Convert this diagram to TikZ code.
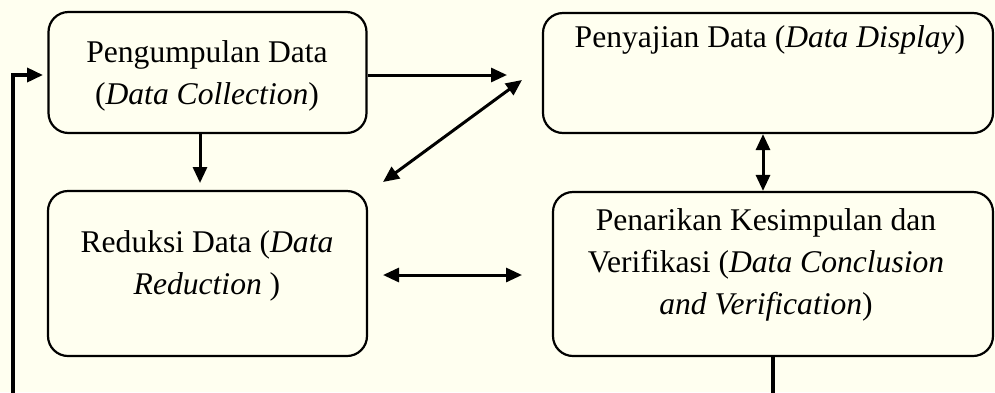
\documentclass[tikz,border=0pt]{standalone}
\usepackage{fontspec}
\setmainfont{Liberation Serif}
\usetikzlibrary{arrows.meta, positioning, calc}
\definecolor{tlo}{HTML}{FFFFF0}

\begin{document}
\begin{tikzpicture}[
			x=0.5pt, y=-0.5pt,
			>={Triangle[length=8pt, width=7pt]},
			box/.style={draw, rounded corners=10pt, line width=1.1pt, inner sep=0pt},
			txt/.style={align=center, font=\fontsize{15.8}{21}\selectfont},
			arr/.style={line width=1.5pt}
			]
			% --- Tlo i obszar rysunku ---
			\fill[tlo] (0,0) rectangle (995,392);
			\useasboundingbox (0,0) rectangle (995,392);
			\clip (0,0) rectangle (995,392);
			
			% --- Bloki (ramki) ---
			\node[box, minimum width=159pt, minimum height=60.5pt] (collect) at (207.5,72.5) {}; % Pengumpulan
			\node[box, minimum width=225pt, minimum height=60pt] (display) at (768,73) {}; % Penyajian
			\node[box, minimum width=159.5pt, minimum height=82.5pt] (reduce) at (207.5,273.5) {}; % Reduksi
			\node[box, minimum width=220pt, minimum height=82pt] (conclude) at (773,274) {}; % Kesimpulan
			
			% --- Teksty w blokach ---
			\node[txt] (collect-txt) at (207,76) {Pengumpulan Data\\(\textit{Data Collection})};
			\node[txt] (display-txt) at (770,40) {Penyajian Data (\textit{Data Display})};
			\node[txt] (reduce-txt) at (207,266) {Reduksi Data (\textit{Data}\\\textit{Reduction} )};
			\node[txt] (conclude-txt) at (766,265) {Penarikan Kesimpulan dan\\Verifikasi (\textit{Data Conclusion}\\\textit{and Verification})};
			
			% --- Punkty pomocnicze ---
			\coordinate (display-in) at (507,75);
			\coordinate (diag-low) at (383,182);
			\coordinate (diag-up) at (522,80);
			\coordinate (reduce-in) at (200,183);
			\coordinate (link-x) at (763,0);
			\coordinate (mid-l) at (383,275);
			\coordinate (mid-r) at (522,275);
			\coordinate (fb-x) at (773,0);
			\coordinate (loop-x) at (13,0);
			\coordinate (collect-in) at (43,75);
			
			% --- Strzalki ---
			\draw[arr, ->] (collect.east |- display-in) -- (display-in);
			\draw[arr, <->] (diag-low) -- (diag-up);
			\draw[arr, ->] (collect.south -| reduce-in) -- (reduce-in);
			\draw[arr, <->] (display.south -| link-x) -- (conclude.north -| link-x);
			\draw[arr, <->] (mid-l) -- (mid-r);
			
			% --- Petla zwrotna ---
			\draw[arr, line width=1.8pt, ->] (conclude.south -| fb-x) -- ++(0,60) -| (loop-x |- collect-in) -- (collect-in);
			
		\end{tikzpicture}
\end{document}
